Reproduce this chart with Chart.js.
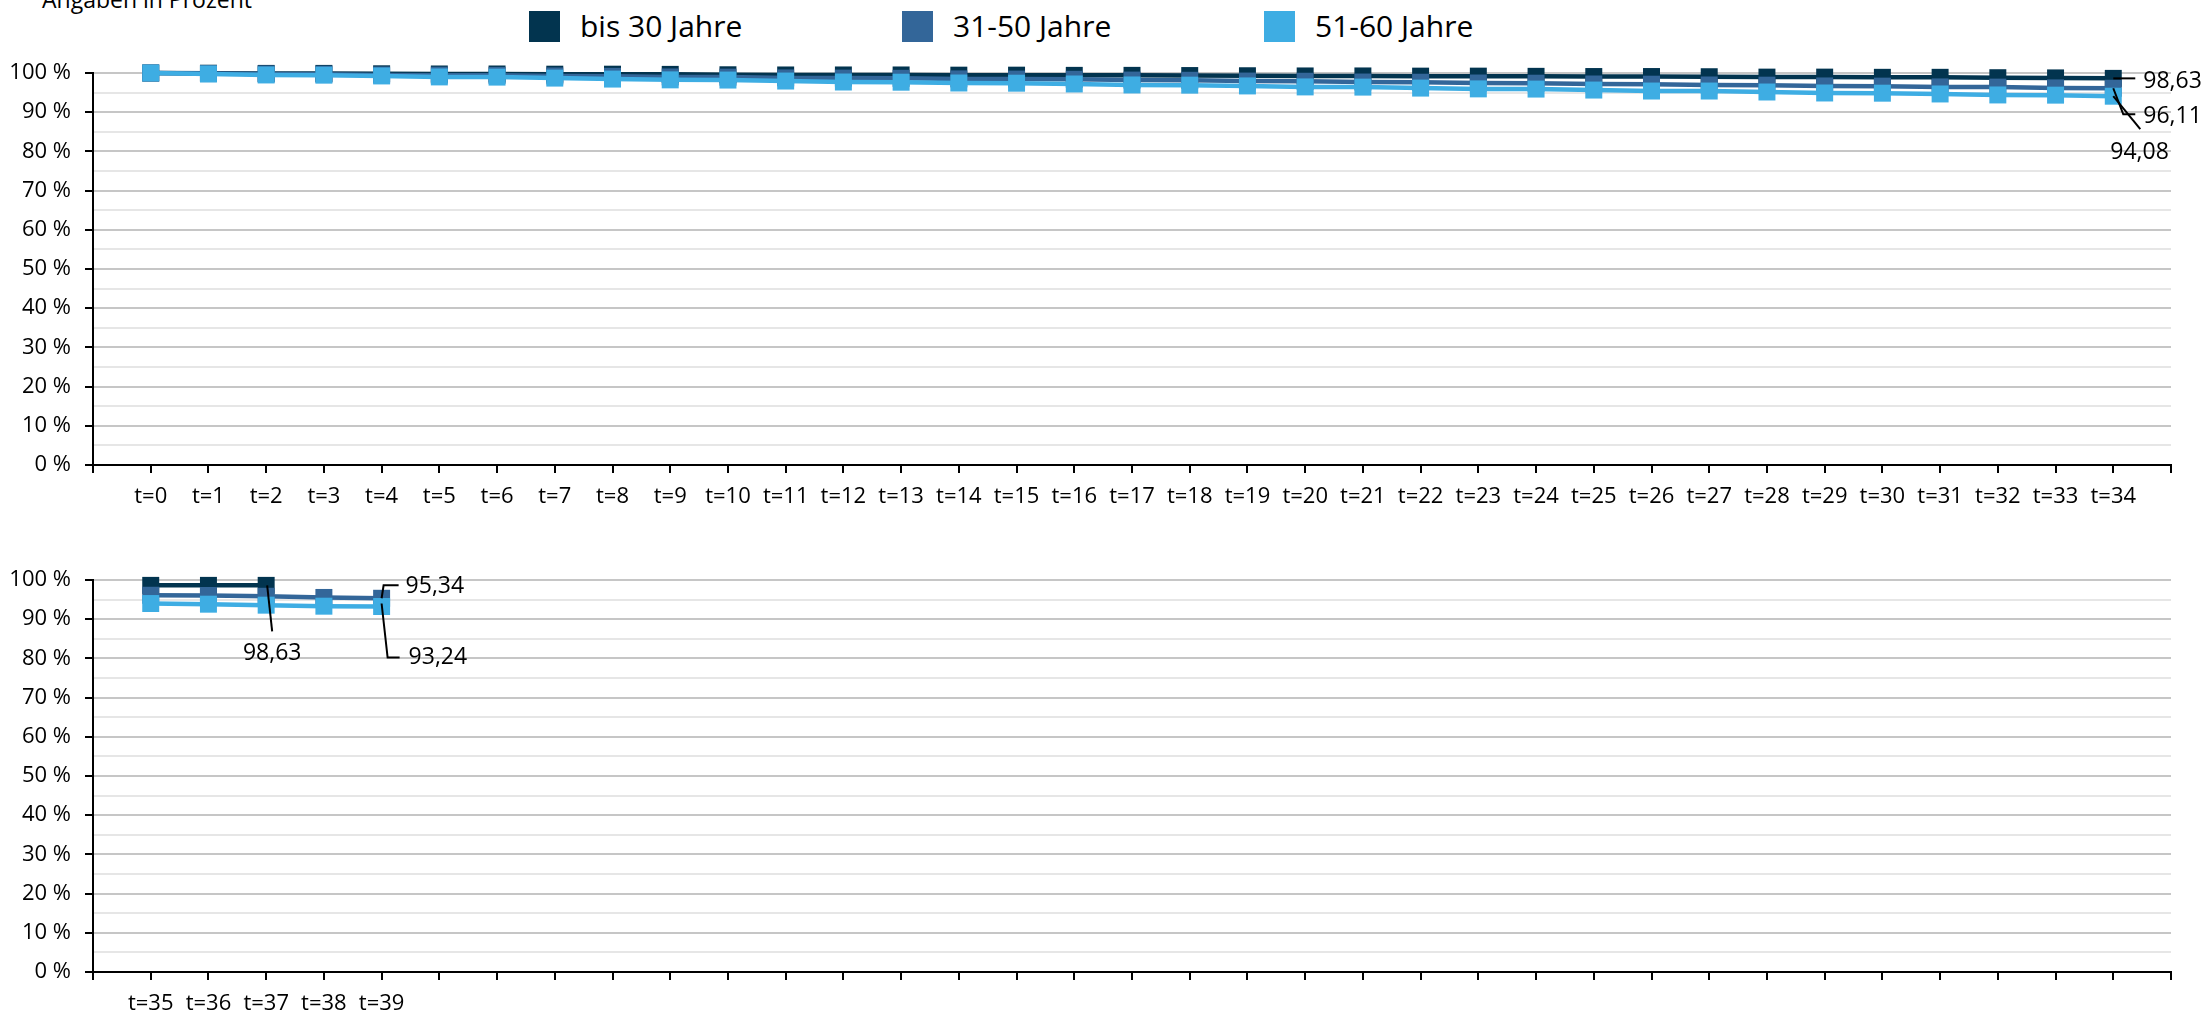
<!DOCTYPE html>
<html>
<head>
<meta charset="utf-8">
<script src="https://cdn.jsdelivr.net/npm/chart.js@4"></script>
<style>
  html, body { margin: 0; padding: 0; background: #fff; }
  body { width: 2206px; height: 1012px; position: relative; overflow: hidden; font-family: 'Open Sans', sans-serif; color: #000; }
  .box { position: absolute; left: 0; width: 2206px; }
  #subtitle { position: absolute; left: 42px; top: -12px; font-size: 23px; line-height: 23px; white-space: nowrap; }
  .lg-sw { position: absolute; top: 11px; width: 31px; height: 31px; }
  .lg-tx { position: absolute; top: 5px; font-size: 30px; line-height: 42px; white-space: nowrap; }
</style>
</head>
<body>
<div id="subtitle">Angaben in Prozent</div>
<div id="legend"></div>
<div class="box" style="top:0;height:520px;"><canvas id="c1"></canvas></div>
<div class="box" style="top:507px;height:505px;"><canvas id="c2"></canvas></div>
<script>
// ---- data ----
const seriesNames = ['bis 30 Jahre', '31-50 Jahre', '51-60 Jahre'];
const seriesColors = ['#02344f', '#336699', '#3eade3'];

const topCategories = ['t=0','t=1','t=2','t=3','t=4','t=5','t=6','t=7','t=8','t=9','t=10','t=11','t=12','t=13','t=14','t=15','t=16','t=17','t=18','t=19','t=20','t=21','t=22','t=23','t=24','t=25','t=26','t=27','t=28','t=29','t=30','t=31','t=32','t=33','t=34'];
const bottomCategories = ['t=35','t=36','t=37','t=38','t=39'];

const topBis30 = [100, 99.95, 99.9, 99.9, 99.8, 99.75, 99.75, 99.7, 99.7, 99.65, 99.55, 99.5, 99.5, 99.5, 99.45, 99.45, 99.4, 99.4, 99.35, 99.3, 99.25, 99.25, 99.2, 99.2, 99.15, 99.1, 99.1, 99.05, 98.95, 98.95, 98.9, 98.9, 98.8, 98.75, 98.63];
const top3150 = [100, 99.85, 99.75, 99.7, 99.5, 99.45, 99.4, 99.25, 99.15, 99.0, 98.95, 98.75, 98.7, 98.65, 98.5, 98.45, 98.4, 98.2, 98.15, 97.95, 97.9, 97.7, 97.65, 97.45, 97.4, 97.2, 97.15, 96.95, 96.9, 96.7, 96.65, 96.45, 96.4, 96.2, 96.11];
const top5160 = [100, 99.75, 99.5, 99.45, 99.25, 99.0, 98.95, 98.7, 98.45, 98.25, 98.2, 97.95, 97.7, 97.65, 97.45, 97.4, 97.2, 96.95, 96.9, 96.7, 96.45, 96.4, 96.15, 95.95, 95.9, 95.65, 95.4, 95.4, 95.15, 94.9, 94.85, 94.65, 94.4, 94.35, 94.08];

const bottomBis30 = [98.63, 98.63, 98.63];
const bottom3150 = [96.11, 96.05, 95.85, 95.55, 95.34];
const bottom5160 = [94.0, 93.83, 93.58, 93.32, 93.24];

const yTickValues = [0, 10, 20, 30, 40, 50, 60, 70, 80, 90, 100];
const totalSlots = 37; // axis slots: one empty slot before and after the category run

// ---- legend (HTML) ----
const legendX = [529, 902, 1264];
const legendEl = document.getElementById('legend');
seriesNames.forEach((n, i) => {
  const sw = document.createElement('div');
  sw.className = 'lg-sw'; sw.style.left = legendX[i] + 'px'; sw.style.background = seriesColors[i];
  const tx = document.createElement('div');
  tx.className = 'lg-tx'; tx.style.left = (legendX[i] + 51) + 'px'; tx.textContent = n;
  legendEl.appendChild(sw); legendEl.appendChild(tx);
});

// ---- helpers ----
function padLabels(cats) {
  const arr = [''].concat(cats);
  while (arr.length < totalSlots) arr.push('');
  return arr;
}
function padData(vals) { return [null].concat(vals); }
const fmt = v => v.toFixed(2).replace('.', ',');

const labelPlugin = {
  id: 'leaderLabels',
  afterDatasetsDraw(chart) {
    const specs = chart.options.plugins.leaderLabels.items || [];
    const ctx = chart.ctx;
    ctx.save();
    ctx.font = '23px "Open Sans"';
    ctx.fillStyle = '#000';
    ctx.strokeStyle = '#000';
    ctx.lineWidth = 2;
    specs.forEach(s => {
      const meta = chart.getDatasetMeta(s.ds);
      const pt = meta.data[s.idx];
      const v = chart.data.datasets[s.ds].data[s.idx];
      const x = pt.x, y = pt.y;
      ctx.beginPath();
      ctx.moveTo(x + s.path[0][0], y + s.path[0][1]);
      for (let k = 1; k < s.path.length; k++) ctx.lineTo(x + s.path[k][0], y + s.path[k][1]);
      ctx.stroke();
      ctx.textAlign = s.align;
      ctx.textBaseline = 'middle';
      ctx.fillText(fmt(v), x + s.tx, y + s.ty);
    });
    ctx.restore();
  }
};

function makeChart(id, cats, seriesData, padTop, padBottom, xHeight, items) {
  const datasets = seriesData.map((d, i) => ({
    label: seriesNames[i],
    data: padData(d),
    borderColor: seriesColors[i],
    backgroundColor: seriesColors[i],
    borderWidth: 4.5,
    pointStyle: 'rect',
    pointRadius: 12,
    pointBorderWidth: 0,
    pointBackgroundColor: seriesColors[i],
    tension: 0,
    spanGaps: false,
    order: 3 - i,
    clip: false
  }));
  return new Chart(document.getElementById(id), {
    type: 'line',
    data: { labels: padLabels(cats), datasets },
    plugins: [labelPlugin],
    options: {
      responsive: true,
      maintainAspectRatio: false,
      animation: false,
      devicePixelRatio: 1,
      layout: { padding: { top: padTop, right: 35, bottom: padBottom, left: 0 } },
      plugins: {
        legend: { display: false },
        tooltip: { enabled: false },
        leaderLabels: { items }
      },
      scales: {
        x: {
          type: 'category',
          offset: false,
          border: { color: '#000', width: 2 },
          grid: { drawOnChartArea: false, drawTicks: true, tickLength: 8, color: '#000', lineWidth: 2 },
          ticks: { autoSkip: false, maxRotation: 0, minRotation: 0, padding: 11, color: '#000', font: { family: 'Open Sans', size: 22 } },
          afterFit: s => { s.height = xHeight; }
        },
        y: {
          min: 0, max: 100,
          border: { color: '#000', width: 2 },
          grid: {
            color: c => (c.tick && yTickValues.includes(c.tick.value)) ? '#c6c6c6' : '#e6e6e6',
            tickColor: c => (c.tick && yTickValues.includes(c.tick.value)) ? '#000' : 'rgba(0,0,0,0)',
            lineWidth: 2, tickLength: 8
          },
          ticks: {
            stepSize: 5, autoSkip: false, padding: 14, color: '#000',
            font: { family: 'Open Sans', size: 22 },
            callback: v => yTickValues.includes(v) ? v + ' %' : ''
          },
          afterFit: s => { s.width = 93; }
        }
      }
    }
  });
}

makeChart('c1', topCategories, [topBis30, top3150, top5160], 73, 10, 45, [
  { ds: 0, idx: 35, path: [[0, 0], [22, 0]], tx: 30, ty: 3, align: 'left' },
  { ds: 1, idx: 35, path: [[0, 0], [10, 26], [22, 26]], tx: 30, ty: 28, align: 'left' },
  { ds: 2, idx: 35, path: [[0, 0], [27, 33]], tx: -3, ty: 56, align: 'left' }
]);
makeChart('c2', bottomCategories, [bottomBis30, bottom3150, bottom5160], 73, 0, 40, [
  { ds: 0, idx: 3, path: [[1, 0], [6, 46]], tx: 6, ty: 68, align: 'center' },
  { ds: 1, idx: 5, path: [[0, 0], [2, -13], [17, -13]], tx: 24, ty: -12, align: 'left' },
  { ds: 2, idx: 5, path: [[0, -3], [6, 51], [18, 51]], tx: 27, ty: 51, align: 'left' }
]);
</script>
</body>
</html>
